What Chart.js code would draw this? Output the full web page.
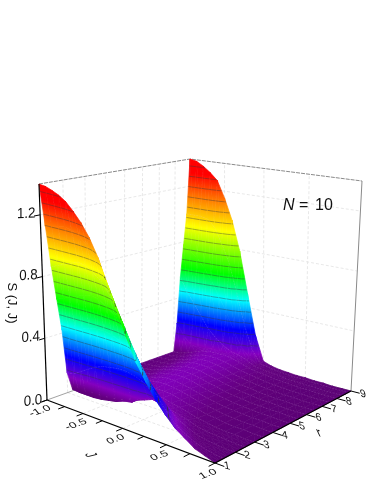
<!DOCTYPE html>
<html>
<head>
<meta charset="utf-8">
<style>
  html, body { margin: 0; padding: 0; background: #fff; }
  canvas { display: block; }
</style>
<script src="https://cdn.jsdelivr.net/npm/chart.js@4/dist/chart.umd.min.js"></script>
</head>
<body>
<canvas id="myChart" width="374" height="484"></canvas>
<script>
const jValues = [-1, -0.9, -0.8, -0.7, -0.6, -0.5, -0.4, -0.3, -0.2, -0.1, 0, 0.1, 0.2, 0.3, 0.4, 0.5, 0.6, 0.7, 0.8, 0.9, 1];
const rValues = [1, 1.2, 1.4, 1.6, 1.8, 2, 2.25, 2.5, 2.75, 3, 3.5, 4, 4.5, 5, 5.5, 6, 6.5, 7, 7.5, 8, 8.2, 8.4, 8.6, 8.8, 9];

// one row per J value, one column per r value
const sValues = [
  [1.40, 1.12, 0.85, 0.63, 0.42, 0.13, 0.01, 0.01, 0.015, 0.02, 0.02, 0.02, 0.02, 0.02, 0.02, 0.02, 0.02, 0.02, 0.02, 0.02, 0.22, 0.55, 0.78, 1.00, 1.40],
  [1.395, 1.13, 0.87, 0.65, 0.43, 0.14, 0.005, 0.01, 0.015, 0.02, 0.025, 0.025, 0.025, 0.025, 0.025, 0.025, 0.025, 0.025, 0.025, 0.025, 0.14, 0.45, 0.74, 1.00, 1.39],
  [1.38, 1.14, 0.89, 0.67, 0.45, 0.17, 0.005, 0.01, 0.02, 0.025, 0.03, 0.03, 0.03, 0.03, 0.03, 0.03, 0.03, 0.03, 0.035, 0.04, 0.09, 0.38, 0.70, 1.00, 1.36],
  [1.36, 1.15, 0.91, 0.69, 0.47, 0.20, 0.005, 0.012, 0.02, 0.03, 0.04, 0.04, 0.04, 0.04, 0.04, 0.04, 0.04, 0.045, 0.05, 0.06, 0.08, 0.30, 0.64, 0.99, 1.32],
  [1.33, 1.14, 0.93, 0.71, 0.49, 0.23, 0.01, 0.015, 0.025, 0.035, 0.05, 0.05, 0.05, 0.05, 0.055, 0.055, 0.06, 0.06, 0.07, 0.08, 0.09, 0.22, 0.56, 0.94, 1.27],
  [1.28, 1.11, 0.92, 0.72, 0.50, 0.25, 0.02, 0.02, 0.03, 0.045, 0.06, 0.065, 0.065, 0.07, 0.07, 0.07, 0.075, 0.08, 0.085, 0.09, 0.10, 0.17, 0.46, 0.83, 1.15],
  [1.22, 1.07, 0.89, 0.71, 0.50, 0.26, 0.03, 0.03, 0.04, 0.055, 0.07, 0.08, 0.08, 0.08, 0.085, 0.085, 0.09, 0.09, 0.09, 0.09, 0.09, 0.13, 0.36, 0.70, 1.00],
  [1.14, 1.00, 0.85, 0.68, 0.49, 0.27, 0.05, 0.05, 0.055, 0.065, 0.08, 0.09, 0.09, 0.09, 0.09, 0.09, 0.09, 0.09, 0.09, 0.09, 0.09, 0.10, 0.24, 0.50, 0.79],
  [1.03, 0.91, 0.78, 0.64, 0.47, 0.27, 0.06, 0.06, 0.065, 0.075, 0.085, 0.09, 0.09, 0.09, 0.085, 0.085, 0.085, 0.08, 0.08, 0.08, 0.08, 0.09, 0.13, 0.28, 0.50],
  [0.88, 0.78, 0.68, 0.57, 0.43, 0.26, 0.10, 0.08, 0.08, 0.08, 0.085, 0.085, 0.08, 0.08, 0.075, 0.07, 0.07, 0.07, 0.065, 0.065, 0.065, 0.07, 0.08, 0.12, 0.22],
  [0.73, 0.65, 0.56, 0.47, 0.36, 0.24, 0.13, 0.10, 0.09, 0.085, 0.08, 0.075, 0.07, 0.065, 0.06, 0.06, 0.055, 0.05, 0.05, 0.045, 0.04, 0.04, 0.04, 0.04, 0.05],
  [0.58, 0.51, 0.44, 0.37, 0.29, 0.20, 0.12, 0.09, 0.08, 0.07, 0.065, 0.06, 0.055, 0.05, 0.05, 0.045, 0.04, 0.04, 0.04, 0.035, 0.035, 0.03, 0.03, 0.03, 0.03],
  [0.44, 0.39, 0.34, 0.28, 0.23, 0.17, 0.10, 0.075, 0.065, 0.06, 0.05, 0.045, 0.04, 0.04, 0.035, 0.035, 0.03, 0.03, 0.03, 0.03, 0.025, 0.025, 0.02, 0.02, 0.02],
  [0.34, 0.30, 0.25, 0.21, 0.17, 0.13, 0.08, 0.06, 0.05, 0.045, 0.04, 0.035, 0.03, 0.03, 0.025, 0.025, 0.025, 0.02, 0.02, 0.02, 0.02, 0.02, 0.015, 0.015, 0.015],
  [0.25, 0.21, 0.175, 0.14, 0.11, 0.08, 0.06, 0.045, 0.035, 0.03, 0.025, 0.025, 0.02, 0.02, 0.02, 0.02, 0.015, 0.015, 0.015, 0.015, 0.015, 0.01, 0.01, 0.01, 0.01],
  [0.18, 0.14, 0.11, 0.085, 0.065, 0.05, 0.035, 0.025, 0.02, 0.02, 0.02, 0.015, 0.015, 0.015, 0.01, 0.01, 0.01, 0.01, 0.01, 0.01, 0.01, 0.01, 0.01, 0.01, 0.01],
  [0.12, 0.09, 0.07, 0.05, 0.035, 0.025, 0.02, 0.015, 0.015, 0.01, 0.01, 0.01, 0.01, 0.01, 0.01, 0.01, 0.005, 0.005, 0.005, 0.005, 0.005, 0.005, 0.005, 0.005, 0.005],
  [0.08, 0.06, 0.04, 0.025, 0.015, 0.012, 0.01, 0.01, 0.01, 0.005, 0.005, 0.005, 0.005, 0.005, 0.005, 0.005, 0.005, 0.005, 0.005, 0.005, 0.005, 0.005, 0.005, 0.005, 0.005],
  [0.04, 0.03, 0.02, 0.012, 0.01, 0.005, 0.005, 0.005, 0.005, 0.005, 0.005, 0.005, 0.005, 0.005, 0.005, 0, 0, 0, 0, 0, 0, 0, 0, 0, 0],
  [0.02, 0.012, 0.008, 0.005, 0.005, 0, 0, 0, 0, 0, 0, 0, 0, 0, 0, 0, 0, 0, 0, 0, 0, 0, 0, 0, 0],
  [0, 0, 0, 0, 0, 0, 0, 0, 0, 0, 0, 0, 0, 0, 0, 0, 0, 0, 0, 0, 0, 0, 0, 0, 0]
];

const sTicks = [0, 0.4, 0.8, 1.2];
const sTickLabels = ['0.0', '0.4', '0.8', '1.2'];
const jTicks = [-1, -0.5, 0, 0.5, 1];
const jTickLabels = ['-1.0', '-0.5', '0.0', '0.5', '1.0'];
const jMinorTicks = [-0.75, -0.25, 0.25, 0.75];
const rTicks = [1, 2, 3, 4, 5, 6, 7, 8, 9];
const contourLevels = [0.15, 0.225, 0.3, 0.375, 0.45, 0.525, 0.6, 0.675, 0.75, 0.825, 0.9, 0.975, 1.05, 1.125, 1.2, 1.275, 1.35];
const meshJ = [-0.8, -0.6, -0.4, -0.2, 0, 0.2, 0.4, 0.6, 0.8];
const meshR = [1.4, 2, 2.5, 3, 3.5, 4, 4.5, 5, 5.5, 6, 6.5, 7, 7.5, 8, 8.4, 8.8];

// colour by S value
const colorStops = [
  [0, [92, 0, 118]],
  [0.03, [100, 0, 128]],
  [0.1, [132, 0, 192]],
  [0.25, [0, 0, 255]],
  [0.45, [0, 255, 255]],
  [0.62, [0, 255, 0]],
  [0.92, [255, 255, 0]],
  [1.12, [255, 128, 0]],
  [1.3, [255, 0, 0]],
  [1.4, [255, 0, 0]]
];

const sMax = 1.4;

// box corners in picture units: floor, then the plane S = 1.4
const floorBox = makeQuad([47, 400], [215, 463], [351, 391], [189, 349]);
const topBox = makeQuad([39, 184], [218, 228], [362, 181], [190, 159]);

function makeQuad(A, B, C, D) {
  const dx1 = B[0] - C[0], dx2 = D[0] - C[0], sx = A[0] - B[0] + C[0] - D[0];
  const dy1 = B[1] - C[1], dy2 = D[1] - C[1], sy = A[1] - B[1] + C[1] - D[1];
  const den = dx1 * dy2 - dx2 * dy1;
  const g = (sx * dy2 - dx2 * sy) / den;
  const h = (dx1 * sy - sx * dy1) / den;
  return {
    a: B[0] - A[0] + g * B[0], b: D[0] - A[0] + h * D[0], c: A[0],
    d: B[1] - A[1] + g * B[1], e: D[1] - A[1] + h * D[1], f: A[1],
    g: g, h: h
  };
}

function quadPoint(q, u, v) {
  const w = q.g * u + q.h * v + 1;
  return [(q.a * u + q.b * v + q.c) / w, (q.d * u + q.e * v + q.f) / w];
}

function project(j, r, s) {
  const u = (j + 1) / 2, v = (r - 1) / 8;
  const p0 = quadPoint(floorBox, u, v), p1 = quadPoint(topBox, u, v);
  const t = s / sMax;
  return { x: p0[0] + (p1[0] - p0[0]) * t, y: p0[1] + (p1[1] - p0[1]) * t };
}

function colorAt(s) {
  for (let i = 1; i < colorStops.length; i++) {
    if (s <= colorStops[i][0]) {
      const a = colorStops[i - 1], b = colorStops[i];
      const t = (s - a[0]) / (b[0] - a[0]);
      const c = a[1].map((v, k) => Math.round(v + (b[1][k] - v) * t));
      return 'rgb(' + c.join(',') + ')';
    }
  }
  return 'rgb(255,0,0)';
}

const canvas = document.getElementById('myChart');
const ctx = canvas.getContext('2d');

// linear colour ramp over one triangle
function triangleFill(pts, vals) {
  const lo = Math.min(...vals), hi = Math.max(...vals);
  const x1 = pts[1].x - pts[0].x, y1 = pts[1].y - pts[0].y;
  const x2 = pts[2].x - pts[0].x, y2 = pts[2].y - pts[0].y;
  const det = x1 * y2 - x2 * y1;
  if (Math.abs(det) < 0.01 || hi - lo < 0.001) return colorAt((lo + hi) / 2);
  const ds1 = vals[1] - vals[0], ds2 = vals[2] - vals[0];
  const gx = (ds1 * y2 - ds2 * y1) / det;
  const gy = (x1 * ds2 - x2 * ds1) / det;
  const g2 = gx * gx + gy * gy;
  const t0 = (lo - vals[0]) / g2, t1 = (hi - vals[0]) / g2;
  const grad = ctx.createLinearGradient(pts[0].x + gx * t0, pts[0].y + gy * t0, pts[0].x + gx * t1, pts[0].y + gy * t1);
  grad.addColorStop(0, colorAt(lo));
  grad.addColorStop(1, colorAt(hi));
  colorStops.forEach(st => {
    if (st[0] > lo && st[0] < hi) grad.addColorStop((st[0] - lo) / (hi - lo), colorAt(st[0]));
  });
  return grad;
}

function lineSet(points, color, width, dash) {
  return {
    type: 'scatter', data: points, showLine: true, spanGaps: false, pointRadius: 0,
    borderColor: color, borderWidth: width, borderDash: dash || [], fill: false, tension: 0
  };
}

function triangleSet(pts, vals) {
  const paint = triangleFill(pts, vals);
  return {
    type: 'scatter', data: pts.concat([pts[0]]), showLine: true, pointRadius: 0,
    borderColor: paint, borderWidth: 0.7, backgroundColor: paint, fill: 'shape', tension: 0
  };
}

const gap = { x: NaN, y: NaN };

// where a level crosses a triangle
function levelSegment(tri, level) {
  const out = [];
  for (let i = 0; i < 3; i++) {
    const a = tri[i], b = tri[(i + 1) % 3];
    if ((a.s < level) !== (b.s < level)) {
      const t = (level - a.s) / (b.s - a.s);
      out.push({ x: a.p.x + (b.p.x - a.p.x) * t, y: a.p.y + (b.p.y - a.p.y) * t });
    }
  }
  return out;
}

function sampleRow(i, k) { return { s: sValues[i][k], p: project(jValues[i], rValues[k], sValues[i][k]) }; }

const layers = [];

// walls and floor behind the surface
const wallGrid = [];
[2, 3, 4, 5, 6, 7, 8].forEach(r => wallGrid.push(project(-1, r, 0), project(-1, r, sMax), gap));
[-0.5, 0, 0.5].forEach(j => wallGrid.push(project(j, 9, 0), project(j, 9, sMax), gap));
[0.4, 0.8, 1.2].forEach(s => {
  wallGrid.push(project(-1, 1, s), project(-1, 9, s), project(1, 9, s), gap);
});
rTicks.slice(1, 8).forEach(r => wallGrid.push(project(-1, r, 0), project(1, r, 0), gap));
[-0.5, 0, 0.5].forEach(j => wallGrid.push(project(j, 1, 0), project(j, 9, 0), gap));
layers.push(lineSet(wallGrid, '#e2e2e2', 0.8, [3, 2]));
layers.push(lineSet([project(-1, 1, sMax), project(-1, 9, sMax), project(1, 9, sMax)], '#8a8a8a', 1, [4, 1]));
layers.push(lineSet([project(1, 9, 0), project(1, 9, sMax)], '#8a8a8a', 1));
layers.push(lineSet([project(-1, 1, 0), project(-1, 9, 0), project(1, 9, 0)], '#8a8a8a', 0.8));
layers.push(lineSet([project(-1, 9, 0), project(-1, 9, sMax)], '#8a8a8a', 0.8));

// surface, strip by strip from the far side to the near corner
for (let i = 0; i < jValues.length - 1; i++) {
  const contours = [], mesh = [];
  for (let k = rValues.length - 2; k >= 0; k--) {
    const a = sampleRow(i, k + 1), b = sampleRow(i + 1, k + 1), c = sampleRow(i + 1, k), d = sampleRow(i, k);
    [[a, b, c], [a, c, d]].forEach(tri => {
      layers.push(triangleSet(tri.map(v => v.p), tri.map(v => v.s)));
      contourLevels.forEach(level => {
        const seg = levelSegment(tri, level);
        if (seg.length === 2) contours.push(seg[0], seg[1], gap);
      });
    });
    if (meshJ.includes(jValues[i + 1])) mesh.push(b.p, c.p, gap);
    if (meshR.includes(rValues[k])) mesh.push(d.p, c.p, gap);
  }
  layers.push(lineSet(mesh, 'rgba(225,190,235,0.24)', 0.7, [1.5, 1.5]));
  layers.push(lineSet(contours, 'rgba(55,55,60,0.6)', 0.7));
}

// axes in front
layers.push(lineSet([project(-1, 1, 0), project(-1, 1, sMax)], '#000', 1.2));
layers.push(lineSet([project(-1, 1, 0), project(1, 1, 0), project(1, 9, 0)], '#000', 1.2));
const tickMarks = [];
sTicks.forEach(s => tickMarks.push(project(-1, 1, s), project(-1, 0.75, s), gap));
jTicks.concat(jMinorTicks).forEach(j => tickMarks.push(project(j, 1, 0), project(j, 0.7, 0), gap));
rTicks.forEach(r => tickMarks.push(project(1, r, 0), project(1.09, r, 0), gap));
layers.push(lineSet(tickMarks, '#000', 1));

// text at tick positions, with the skew of the box faces
const axisText = {
  id: 'axisText',
  afterDraw(chart) {
    const c = chart.ctx, xs = chart.scales.x, ys = chart.scales.y;
    function put(text, px, py, m, font) {
      c.save();
      c.translate(xs.getPixelForValue(px), ys.getPixelForValue(py));
      c.transform(m[0], m[1], m[2], m[3], 0, 0);
      c.font = font;
      c.fillStyle = '#111';
      c.textAlign = 'center';
      c.textBaseline = 'middle';
      c.fillText(text, 0, 0);
      c.restore();
    }
    const f = '"Liberation Sans", Arial, sans-serif';
    sTicks.forEach((s, i) => {
      const p = project(-1, 1, s);
      put(sTickLabels[i], p.x - 14, p.y + (i === 0 ? 1 : -1), [0.95, -0.12 + 0.03 * i, 0, 1.05], '14px ' + f);
    });
    jTicks.forEach((j, i) => {
      const p = project(j, 1, 0);
      put(jTickLabels[i], p.x - 7, p.y + 11, [0.98, -0.34, 0.5, 0.62], '12px ' + f);
    });
    rTicks.forEach(r => {
      const p = project(1, r, 0);
      put(String(r), p.x + 12, p.y + 3, [0.9, 0.25, 0.15, 0.9], '12px ' + f);
    });
    put('J', 90, 455, [0.35, 0.5, -0.95, 0.25], '16px ' + f);
    put('r', 319, 433, [0.85, 0.35, 0.4, 0.85], '16px ' + f);
    put('S (J, J)', 12, 303, [0, 1, -1, 0], '13px ' + f);
    c.save();
    c.fillStyle = '#111';
    c.textAlign = 'left';
    c.textBaseline = 'middle';
    c.font = 'italic 16px ' + f;
    c.fillText('N', xs.getPixelForValue(283), ys.getPixelForValue(206));
    c.font = '16px ' + f;
    c.fillText('=', xs.getPixelForValue(299), ys.getPixelForValue(206));
    c.fillText('10', xs.getPixelForValue(315), ys.getPixelForValue(206));
    c.restore();
  }
};

// first dataset ends up on top in Chart.js, so hand them over reversed
new Chart(ctx, {
  type: 'scatter',
  data: { datasets: layers.slice().reverse() },
  options: {
    responsive: false,
    animation: false,
    layout: { padding: 0 },
    events: [],
    plugins: { legend: { display: false }, tooltip: { enabled: false } },
    scales: {
      x: { type: 'linear', min: 0, max: 374, display: false },
      y: { type: 'linear', min: 0, max: 484, reverse: true, display: false }
    }
  },
  plugins: [axisText]
});
</script>
</body>
</html>
